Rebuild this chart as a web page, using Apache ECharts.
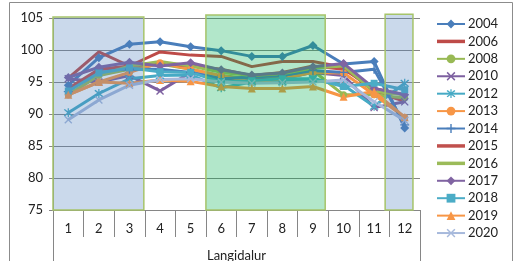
<!DOCTYPE html>
<html>
<head>
<meta charset="utf-8">
<script src="https://cdn.jsdelivr.net/npm/echarts@6/dist/echarts.min.js"></script>
<style>
  html, body { margin: 0; padding: 0; background: #fff; }
  #chart { width: 517px; height: 261px; }
</style>
</head>
<body>
<div id="chart"></div>
<script>
// months along the x axis
let months = ["1", "2", "3", "4", "5", "6", "7", "8", "9", "10", "11", "12"];
let years = ["2004", "2006", "2008", "2010", "2012", "2013", "2014", "2015", "2016", "2017", "2018", "2019", "2020"];

let v2004 = [94.5, 98.8, 100.9, 101.3, 100.5, 99.9, 99.0, 99.0, 100.7, 97.8, 98.2, 87.8];
let v2006 = [95.6, 99.7, 97.5, 99.7, 99.2, 99.0, 97.4, 98.2, 98.2, 97.3, 93.5, 92.0];
let v2008 = [93.0, 96.0, 97.0, 97.8, 97.0, 96.0, 95.5, 95.8, 96.8, 93.0, 93.0, 92.5];
let v2010 = [95.5, 95.0, 96.0, 93.6, 96.5, 95.5, 95.3, 95.5, 96.5, 96.0, 91.0, 91.9];
let v2012 = [90.2, 93.2, 95.5, 96.0, 96.1, 94.1, 95.0, 95.0, 95.5, 94.5, 91.2, 94.8];
let v2013 = [93.0, 95.0, 96.5, 98.0, 97.0, 96.0, 95.0, 95.5, 96.5, 96.4, 93.0, 89.5];
let v2014 = [93.5, 97.0, 97.0, 97.0, 96.5, 95.5, 95.8, 96.0, 96.8, 96.5, 97.0, 88.3];
let v2015 = [94.0, 97.0, 97.5, 98.0, 97.5, 97.0, 96.0, 96.5, 97.5, 97.0, 94.0, 93.0];
let v2016 = [93.0, 96.0, 97.5, 98.2, 97.5, 96.5, 96.0, 96.3, 97.2, 97.5, 93.5, 93.0];
let v2017 = [95.7, 97.3, 98.1, 97.5, 98.0, 96.9, 96.1, 96.4, 97.4, 97.9, 94.0, 93.0];
let v2018 = [93.6, 96.4, 97.2, 96.6, 96.5, 95.0, 95.2, 95.5, 95.5, 94.3, 94.8, 93.8];
let v2019 = [93.0, 95.0, 94.8, 95.3, 95.1, 94.3, 94.0, 94.0, 94.3, 92.7, 93.5, 89.5];
let v2020 = [89.1, 92.2, 94.5, 95.4, 95.5, 95.0, 94.8, 94.9, 95.0, 95.3, 91.9, 89.0];

// shaded periods, in month units from the left edge of the plot
let shadeFrom = [0, 5.0, 10.86];
let shadeTo = [2.97, 8.9, 11.77];
let shadeTop = [105.16, 105.47, 105.6];
let shadeKind = ["blue", "green", "blue"];

let yTicks = [75, 80, 85, 90, 95, 100, 105];

let values = [v2004, v2006, v2008, v2010, v2012, v2013, v2014, v2015, v2016, v2017, v2018, v2019, v2020];

// looks
let colors = ["#4a7ebb", "#be4b48", "#98b954", "#7d60a0", "#46aac5", "#f79646", "#4a7ebb",
              "#c0504d", "#9bbb59", "#8064a2", "#4bacc6", "#f79646", "#a7b9dc"];
let xMark = "path://M1.2,0 L5,3.8 L8.8,0 L10,1.2 L6.2,5 L10,8.8 L8.8,10 L5,6.2 L1.2,10 L0,8.8 L3.8,5 L0,1.2 Z";
let starMark = xMark + " M4.3,-1 L5.7,-1 L5.7,11 L4.3,11 Z";
let plusMark = "path://M4.2,0 H5.8 V4.2 H10 V5.8 H5.8 V10 H4.2 V5.8 H0 V4.2 H4.2 Z";
let lineOnlyIcon = "path://M0,0 H28 V3.5 H0 Z";
let symbols = ["diamond", "none", "circle", xMark, starMark, "circle", plusMark,
               "none", "none", "diamond", "rect", "triangle", xMark];
let symbolSizes = [9, 0, 7, 8, 9, 7, 9, 0, 0, 9, 7, 8, 8];
let shadeFill = { blue: "rgba(79,129,189,0.3)", green: "rgba(0,176,80,0.3)" };
let axisGray = "#868686";
let font = "Lato, 'Open Sans', sans-serif";

let chart = echarts.init(document.getElementById("chart"), null, { renderer: "canvas" });

let series = years.map(function (y, i) {
  return {
    name: y,
    type: "line",
    data: values[i],
    symbol: symbols[i],
    symbolSize: symbolSizes[i],
    showSymbol: symbols[i] !== "none",
    lineStyle: { width: 3, color: colors[i] },
    itemStyle: { color: colors[i], borderColor: colors[i], borderWidth: 0 },
    emphasis: { disabled: true },
    animation: false,
    z: 2
  };
});

// series without markers get a plain bar in the legend
let legendItems = years.map(function (y, i) {
  return symbols[i] === "none" ? { name: y, icon: lineOnlyIcon } : { name: y };
});

let shadeData = shadeFrom.map(function (s, i) {
  return [s, shadeTo[i], shadeTop[i], 75, i];
});

series.push({
  name: "shade",
  type: "custom",
  xAxisIndex: 1,
  yAxisIndex: 0,
  data: shadeData,
  clip: false,
  z: 5,
  silent: true,
  animation: false,
  renderItem: function (params, api) {
    let lo = api.coord([api.value(0), api.value(3)]);
    let hi = api.coord([api.value(1), api.value(2)]);
    let kind = shadeKind[api.value(4)];
    return {
      type: "rect",
      shape: { x: lo[0], y: hi[1], width: hi[0] - lo[0], height: lo[1] - hi[1] },
      style: { fill: shadeFill[kind], stroke: "#a6c46a", lineWidth: 1.5 }
    };
  }
});

chart.setOption({
  backgroundColor: "#ffffff",
  animation: false,
  textStyle: { fontFamily: font },
  grid: { left: 53, right: 97, top: 18, bottom: 51, containLabel: false, outerBoundsMode: "none" },
  legend: {
    data: legendItems,
    orient: "vertical",
    left: 436,
    top: 17.5,
    padding: 0,
    itemWidth: 28,
    itemHeight: 11,
    itemGap: 4.42,
    symbolKeepAspect: true,
    textStyle: { fontSize: 13, color: "#222", fontFamily: font, padding: [0, 0, 0, -2] },
    selectedMode: false
  },
  xAxis: [{
    type: "category",
    data: months,
    boundaryGap: true,
    name: "Langidalur",
    nameLocation: "middle",
    nameGap: 39,
    nameTextStyle: { fontSize: 13, color: "#222", fontFamily: font },
    axisLine: { lineStyle: { color: axisGray, width: 1 } },
    axisTick: { show: true, inside: false, length: 27, lineStyle: { color: axisGray } },
    axisLabel: { fontSize: 13, color: "#222", margin: 12, fontFamily: font },
    splitLine: { show: false }
  }, {
    type: "value",
    min: 0,
    max: 12,
    show: false
  }, {
    type: "category",
    data: [""],
    position: "bottom",
    axisLine: { show: false },
    axisTick: { show: true, length: 60, lineStyle: { color: axisGray } },
    axisLabel: { show: false },
    splitLine: { show: false }
  }],
  yAxis: {
    type: "value",
    min: yTicks[0],
    max: yTicks[yTicks.length - 1],
    interval: 5,
    axisLine: { show: true, lineStyle: { color: axisGray } },
    axisTick: { show: true, length: 4, lineStyle: { color: axisGray } },
    axisLabel: { fontSize: 13, color: "#222", margin: 10, fontFamily: font },
    splitLine: { show: true, lineStyle: { color: axisGray, width: 1 } }
  },
  graphic: [{
    type: "rect",
    shape: { x: 9.5, y: 2.5, width: 503, height: 300 },
    style: { fill: "none", stroke: "#8c8c8c", lineWidth: 1 },
    silent: true,
    z: 10
  }],
  series: series
});
</script>
</body>
</html>
